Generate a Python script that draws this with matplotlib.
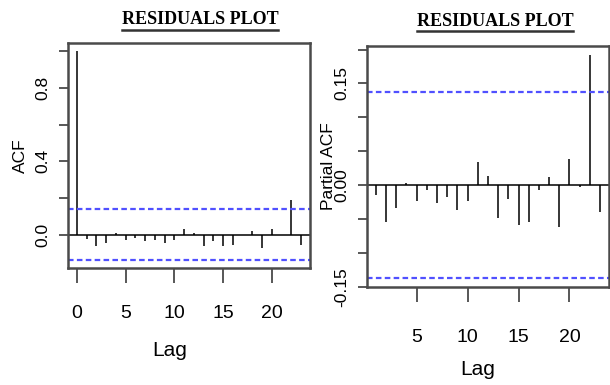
import numpy as np
import matplotlib
matplotlib.use("Agg")
import matplotlib.pyplot as plt
from matplotlib import font_manager
from matplotlib.lines import Line2D

# ---- data ----
acf_lags = list(range(0, 24))
acf_vals = [1.0, -0.025, -0.064, -0.045, 0.009, -0.027, -0.018, -0.036,
            -0.031, -0.045, -0.031, 0.033, 0.011, -0.064, -0.033, -0.064,
            -0.055, -0.004, 0.018, -0.073, 0.033, -0.003, 0.187, -0.058]

pacf_lags = list(range(1, 24))
pacf_vals = [-0.015, -0.054, -0.034, 0.003, -0.024, -0.007, -0.027, -0.018,
             -0.036, -0.024, 0.034, 0.014, -0.049, -0.021, -0.058, -0.054,
             -0.007, 0.012, -0.062, 0.039, -0.003, 0.192, -0.039]

ci = 0.137
title_text = "RESIDUALS PLOT"
acf_yticks = [0.0, 0.2, 0.4, 0.6, 0.8, 1.0]
acf_ylabels = ["0.0", "", "0.4", "", "0.8", ""]
pacf_yticks = [-0.15, -0.10, -0.05, 0.0, 0.05, 0.10, 0.15, 0.20]
pacf_ylabels = ["-0.15", "", "", "0.00", "", "", "0.15", ""]
acf_xticks = [0, 5, 10, 15, 20]
pacf_xticks = [5, 10, 15, 20]


def pick(names):
    for n in names:
        try:
            font_manager.findfont(n, fallback_to_default=False)
            return n
        except Exception:
            pass
    return "DejaVu Sans"


narrow = pick(["Liberation Sans Narrow", "DejaVu Sans Condensed", "Liberation Sans"])
sans = pick(["Liberation Sans", "DejaVu Sans"])
serif = pick(["Liberation Serif", "DejaVu Serif"])

plt.rcParams['axes.unicode_minus'] = False
plt.rcParams['font.family'] = [sans, "DejaVu Sans"]

edge = "#4a4a4a"
blue = "#5050ff"

fig = plt.figure(figsize=(6.1, 3.85), dpi=100)
ax1 = fig.add_axes([0.1115, 0.3039, 0.3967, 0.5844])
ax2 = fig.add_axes([0.6016, 0.2545, 0.3967, 0.626])


def r_range(lo, hi):
    d = (hi - lo) * 0.04
    return lo - d, hi + d


def style(ax, xticks, yticks, ylabels, ylabel, lag_xy, ylab_x, xpad):
    for s in ax.spines.values():
        s.set_linewidth(1.8)
        s.set_color(edge)
    ax.set_xticks(xticks)
    ax.set_xticklabels([str(t) for t in xticks], family=narrow, fontsize=14)
    ax.set_yticks(yticks)
    ax.set_yticklabels(ylabels, rotation=90, va="center", fontsize=12.5)
    ax.tick_params(axis="x", length=10.5, width=1.3, color=edge, pad=xpad)
    ax.tick_params(axis="y", length=6.5, width=1.3, color=edge, pad=6)
    ax.set_xlabel("Lag", family=narrow, fontsize=15)
    ax.xaxis.set_label_coords(*lag_xy)
    ax.set_ylabel(ylabel, fontsize=12.5)
    ax.yaxis.set_label_coords(ylab_x, 0.5)


# ACF panel
ax1.vlines(acf_lags, 0, acf_vals, color="black", lw=1.1)
ax1.axhline(0, color="black", lw=1.1)
ax1.axhline(ci, color=blue, lw=1.6, dashes=(2.5, 1.5))
ax1.axhline(-ci, color=blue, lw=1.6, dashes=(2.5, 1.5))
ax1.set_xlim(*r_range(min(acf_lags), max(acf_lags)))
ax1.set_ylim(*r_range(min(min(acf_vals), -ci), max(max(acf_vals), ci)))
style(ax1, acf_xticks, acf_yticks, acf_ylabels, "ACF", (0.42, -0.325), -0.165, 16)

# PACF panel
ax2.vlines(pacf_lags, 0, pacf_vals, color="black", lw=1.1)
ax2.axhline(0, color="black", lw=1.1)
ax2.axhline(ci, color=blue, lw=1.6, dashes=(2.5, 1.5))
ax2.axhline(-ci, color=blue, lw=1.6, dashes=(2.5, 1.5))
ax2.set_xlim(*r_range(min(pacf_lags), max(pacf_lags)))
ax2.set_ylim(*r_range(min(min(pacf_vals), -ci), max(max(pacf_vals), ci)))
style(ax2, pacf_xticks, pacf_yticks, pacf_ylabels, "Partial ACF", (0.459, -0.303), -0.13, 20)

# titles (underlined, bold serif)
titles = []
for xc, yc in [(200 / 610, 1 - 20 / 385), (495 / 610, 1 - 21 / 385)]:
    t = fig.text(xc, yc, title_text, ha="center", va="center", family=serif,
                 fontweight="bold", fontsize=13, fontstretch="condensed")
    titles.append(t)

fig.canvas.draw()
r = fig.canvas.get_renderer()
for t in titles:
    bb = t.get_window_extent(r).transformed(fig.transFigure.inverted())
    y = bb.y0 - 0.005
    fig.add_artist(Line2D([bb.x0, bb.x1], [y, y], transform=fig.transFigure,
                          color="#333333", lw=1.8))

fig.savefig("out.png", dpi=100)
